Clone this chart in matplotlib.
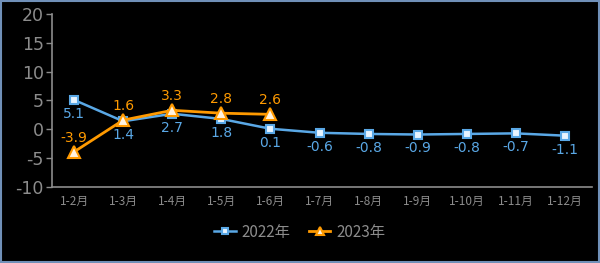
import matplotlib
matplotlib.use("Agg")
import matplotlib.pyplot as plt
from matplotlib.patches import Rectangle

plt.rcParams['font.family'] = ['Noto Sans CJK SC', 'DejaVu Sans']

categories = ["1-2月", "1-3月", "1-4月", "1-5月", "1-6月", "1-7月", "1-8月", "1-9月", "1-10月", "1-11月", "1-12月"]
v2022 = [5.1, 1.4, 2.7, 1.8, 0.1, -0.6, -0.8, -0.9, -0.8, -0.7, -1.1]
v2023 = [-3.9, 1.6, 3.3, 2.8, 2.6]
yticks = [-10, -5, 0, 5, 10, 15, 20]

blue = "#5aa8e6"
orange = "#ff9a00"
gray = "#8c8c8c"

fig = plt.figure(figsize=(6.0, 2.63), dpi=100, facecolor="black")
ax = fig.add_axes([52/600, 1-187/263, 540/600, 173/263], facecolor="black")

x22 = list(range(len(v2022)))
x23 = list(range(len(v2023)))
ax.plot(x22, v2022, color=blue, lw=1.8, marker='s', ms=6, mfc="#e8f4ff",
        mec=blue, mew=1.5, label="2022年", zorder=3)
ax.plot(x23, v2023, color=orange, lw=2.0, marker='^', ms=8, mfc="#fff3e0",
        mec=orange, mew=1.5, label="2023年", zorder=4)

for x, v in zip(x22, v2022):
    ax.annotate(f"{v:.1f}", (x, v), xytext=(0, -5), textcoords="offset points",
                ha="center", va="top", color=blue, fontsize=10, family=['DejaVu Sans'])
for x, v in zip(x23, v2023):
    ax.annotate(f"{v:.1f}", (x, v), xytext=(0, 5), textcoords="offset points",
                ha="center", va="bottom", color=orange, fontsize=10, family=['DejaVu Sans'])

ax.set_xlim(-0.45, 10.55)
ax.set_ylim(-10, 20)
ax.set_yticks(yticks)
ax.set_yticklabels([str(t) for t in yticks], color=gray, fontsize=12.5, family=['DejaVu Sans'])
ax.set_xticks(x22)
ax.set_xticklabels(categories, color=gray, fontsize=8.5)
ax.tick_params(axis='x', length=0, pad=6)
ax.tick_params(axis='y', length=4, color=gray, width=1, pad=2)
for s in ["top", "right"]:
    ax.spines[s].set_visible(False)
for s in ["left", "bottom"]:
    ax.spines[s].set_color(gray)
    ax.spines[s].set_linewidth(1.2)

leg = fig.legend(loc="center", bbox_to_anchor=(0.5, 1-232/263), ncol=2, frameon=False,
                 fontsize=11, handlelength=1.4, columnspacing=1.2, handletextpad=0.4,
                 markerscale=0.8)
for t in leg.get_texts():
    t.set_color(gray)

fig.patches.append(Rectangle((0.002, 0.003), 0.996, 0.993, transform=fig.transFigure,
                             fill=False, edgecolor="#7090b8", lw=1.5))

fig.savefig("out.png", dpi=100, facecolor="black")
